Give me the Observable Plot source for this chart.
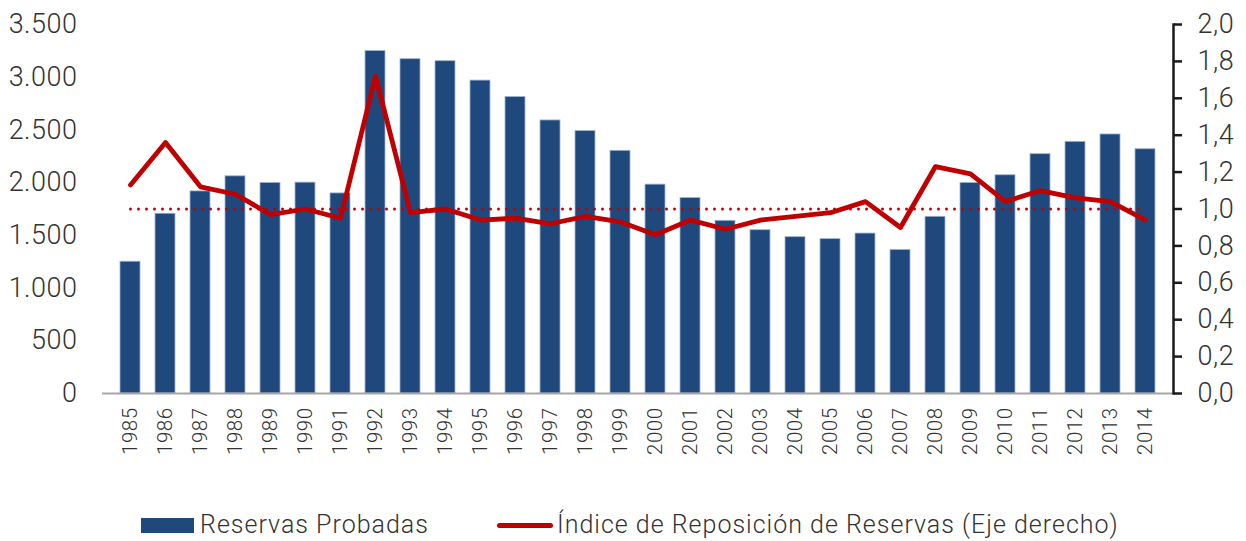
<!DOCTYPE html>
<html>
<head>
<meta charset="utf-8">
<script src="https://cdn.jsdelivr.net/npm/d3@7"></script>
<script src="https://cdn.jsdelivr.net/npm/@observablehq/plot@0.6"></script>
<style>
  html, body { margin: 0; padding: 0; background: #fff; }
  #wrap { position: relative; width: 1246px; height: 541px; font-family: Roboto, "Liberation Sans", sans-serif; font-weight: 300; color: #333; }
  #wrap svg { position: absolute; left: 0; top: 0; background: transparent; }
  .leg { position: absolute; font-size: 25px; line-height: 1; white-space: nowrap; letter-spacing: 1px; }
</style>
</head>
<body>
<div id="wrap"></div>
<script>
// ---- data ----
const years = ["1985","1986","1987","1988","1989","1990","1991","1992","1993","1994","1995","1996","1997","1998","1999","2000","2001","2002","2003","2004","2005","2006","2007","2008","2009","2010","2011","2012","2013","2014"];
const reservas = [1250,1705,1917,2060,1997,2000,1898,3248,3171,3152,2968,2812,2590,2489,2302,1981,1854,1638,1549,1483,1464,1517,1362,1676,1997,2070,2270,2387,2457,2317];
const indice = [1.13,1.36,1.12,1.08,0.97,1.00,0.95,1.72,0.98,1.00,0.94,0.95,0.92,0.96,0.93,0.86,0.94,0.89,0.94,0.96,0.98,1.04,0.90,1.23,1.19,1.04,1.10,1.06,1.04,0.94];
const leftTicks = [0,500,1000,1500,2000,2500,3000,3500];
const rightTicks = [0,0.2,0.4,0.6,0.8,1.0,1.2,1.4,1.6,1.8,2.0];
const referencia = 1.0;
const serieBarras = "Reservas Probadas";
const serieLinea = "Índice de Reposición de Reservas (Eje derecho)";

const barData = years.map((y, i) => ({year: y, value: reservas[i]}));
const lineData = years.map((y, i) => ({year: y, value: indice[i]}));
const refData = years.map(y => ({year: y, value: referencia}));

const es = d3.formatLocale({decimal: ",", thousands: ".", grouping: [3], currency: ["", ""]});
const fmtL = es.format(",");
const fmtR = es.format(".1f");

const W = 1246, H = 470;
const common = {
  width: W, height: H,
  marginLeft: 102, marginRight: 73, marginTop: 24, marginBottom: H - 393,
  style: {fontFamily: "Roboto, 'Liberation Sans', sans-serif", fontWeight: 300, background: "transparent", color: "#333", overflow: "visible", letterSpacing: "0.5px"}
};
const xScale = {type: "band", domain: years, paddingInner: 0.44, paddingOuter: 0.22};

const plotA = Plot.plot({
  ...common,
  x: {...xScale},
  y: {domain: [0, 3500]},
  marks: [
    Plot.barY(barData, {x: "year", y: "value", fill: "#1F497D", stroke: "#9fb3cf", strokeWidth: 0.8}),
    Plot.ruleY([0], {stroke: "#a6a6a6", strokeWidth: 2}),
    Plot.axisY({ticks: leftTicks, tickFormat: fmtL, tickSize: 0, tickPadding: 25, fontSize: 27, label: null, fill: "#333"}),
    Plot.axisX({tickRotate: -90, tickSize: 0, tickPadding: 14, fontSize: 20.5, label: null, fill: "#333"})
  ]
});

const plotB = Plot.plot({
  ...common,
  x: {...xScale, axis: null},
  y: {domain: [0, 2.0]},
  marks: [
    Plot.line(refData, {x: "year", y: "value", stroke: "#C00000", strokeWidth: 3, strokeDasharray: "0,8", strokeLinecap: "round"}),
    Plot.line(lineData, {x: "year", y: "value", stroke: "#C00000", strokeWidth: 4.8, strokeLinejoin: "round", strokeLinecap: "round"}),
    Plot.frame({anchor: "right", stroke: "#1a1a1a", strokeWidth: 2.5}),
    Plot.axisY({anchor: "right", ticks: rightTicks, tickFormat: fmtR, tickSize: 8, tickPadding: 16, fontSize: 27, label: null, stroke: "#1a1a1a", strokeWidth: 2.5, fill: "#333"})
  ]
});

const wrap = document.getElementById("wrap");
wrap.appendChild(plotA);
wrap.appendChild(plotB);

// legend below the chart
function legItem(swatchStyle, text, textLeft) {
  const sw = document.createElement("div");
  sw.style.cssText = "position:absolute;" + swatchStyle;
  wrap.appendChild(sw);
  const t = document.createElement("div");
  t.className = "leg";
  t.textContent = text;
  t.style.left = textLeft + "px";
  t.style.top = "512px";
  wrap.appendChild(t);
}
legItem("left:141px;top:518px;width:53px;height:15px;background:#1F497D;", serieBarras, 200);
legItem("left:497px;top:522.5px;width:56px;height:5px;border-radius:3px;background:#C00000;", serieLinea, 557);
</script>
</body>
</html>
